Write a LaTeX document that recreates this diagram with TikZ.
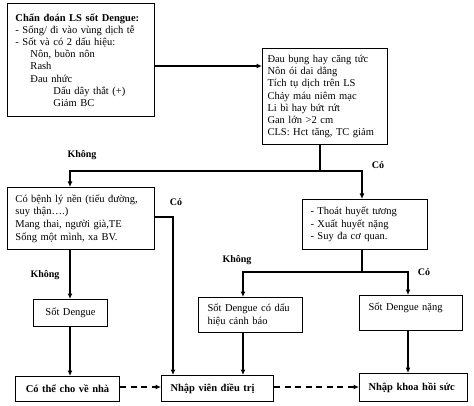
\documentclass[tikz,border=0pt]{standalone}
\usepackage{fontspec}
\setmainfont{Liberation Serif}
\usetikzlibrary{arrows.meta}
\begin{document}
\begin{tikzpicture}[x=1pt,y=-1pt,
  box/.style={draw, line width=1pt, anchor=north west, inner ysep=2pt, align=left,
    font=\fontsize{10.5}{12.2}\selectfont},
  lab/.style={font=\fontsize{10}{12}\selectfont\bfseries},
  ln/.style={line width=1.3pt},
  arr/.style={line width=1.3pt, -{Latex[length=5.5pt,width=5pt]}},
  darr/.style={arr, dash pattern=on 6pt off 4.5pt}]
\useasboundingbox (0,0) rectangle (474,406);

% boxes
\node[box, inner xsep=8pt, text width=131pt, minimum width=147pt, minimum height=113pt] (b1) at (7,3) {%
\textbf{Chẩn đoán LS sốt Dengue:}\\
- Sống/ đi vào vùng dịch tễ\\
- Sốt và có 2 dấu hiệu:\\
\hspace*{15pt}Nôn, buồn nôn\\
\hspace*{15pt}Rash\\
\hspace*{15pt}Đau nhức\\
\hspace*{38pt}Dấu dây thắt (+)\\
\hspace*{38pt}Giảm BC};

\node[box, inner xsep=5pt, text width=115pt, minimum width=125pt, minimum height=96pt] (b2) at (262,48) {%
Đau bụng hay căng tức\\
Nôn ói dai dẳng\\
Tích tụ dịch trên LS\\
Chảy máu niêm mạc\\
Li bì hay bứt rứt\\
Gan lớn >2 cm\\
CLS: Hct tăng, TC giảm};

\node[box, inner xsep=8pt, text width=131pt, minimum width=147pt, minimum height=62pt,
  font=\fontsize{10.5}{12.6}\selectfont] (b3) at (7,187) {%
Có bệnh lý nền (tiểu đường,\\
suy thận….)\\
Mang thai, người già,TE\\
Sống một mình, xa BV.};

\node[box, inner xsep=8pt, text width=109pt, minimum width=125pt, minimum height=50pt] (b4) at (302,199) {%
- Thoát huyết tương\\
- Xuất huyết nặng\\
- Suy đa cơ quan.};

\node[box, align=center, inner xsep=2pt, text width=70pt, minimum width=74pt, minimum height=27pt] (sd) at (33,299) {Sốt Dengue};

\node[box, align=center, inner xsep=2pt, text width=100pt, minimum width=104pt, minimum height=25pt] (ct) at (15,376) {\textbf{Có thể cho về nhà}};

\node[box, inner xsep=9pt, text width=94pt, minimum width=112pt, minimum height=26pt] (nv) at (161,375) {\textbf{Nhập viên điều trị}};

\node[box, inner xsep=9pt, text width=86pt, minimum width=104pt, minimum height=35pt] (sdc) at (198,297) {%
Sốt Dengue có dấu\\
hiệu cảnh báo};

\node[box, inner xsep=9pt, inner ysep=4pt, text width=85pt, minimum width=103pt, text height=11pt, text depth=16pt] (sdn) at (359,295) {Sốt Dengue nặng};

\node[box, inner xsep=9pt, text width=90pt, minimum width=108pt, minimum height=28pt] (nk) at (359,373) {\textbf{Nhập khoa hồi sức}};

% junction coordinates
\coordinate (y66) at (0,66);
\coordinate (j2) at (320,171);
\coordinate (x70) at (70,0);
\coordinate (x362) at (362,0);
\coordinate (y217) at (0,217);
\coordinate (x173) at (173,0);
\coordinate (j4) at (362,272);
\coordinate (x243) at (243,0);
\coordinate (x408) at (408,0);
\coordinate (y387) at (0,387);

% connectors
\draw[arr] (b1.east |- y66) -- (b2.west |- y66);
\draw[ln] (b2.south -| j2) -- (j2);
\draw[arr] (j2) -- (x70 |- j2) -- (b3.north -| x70);
\draw[arr] (j2) -- (x362 |- j2) -- (b4.north -| x362);
\draw[arr] (b3.east |- y217) -- (x173 |- y217) -- (nv.north -| x173);
\draw[arr] (b3.south -| x70) -- (sd.north -| x70);
\draw[arr] (sd.south -| x70) -- (ct.north -| x70);
\draw[darr] (ct.east |- y387) -- (nv.west |- y387);
\draw[ln] (b4.south -| j4) -- (j4);
\draw[arr] (j4) -- (x243 |- j4) -- (sdc.north -| x243);
\draw[arr] (j4) -- (x408 |- j4) -- (sdn.north -| x408);
\draw[arr] (sdc.south -| x243) -- (nv.north -| x243);
\draw[arr] (sdn.south -| x408) -- (nk.north -| x408);
\draw[darr] (nv.east |- y387) -- (nk.west |- y387);

% labels
\node[lab] (l1) at (82,155) {Không};
\node[lab] (l2) at (378,165) {Có};
\node[lab] (l3) at (176,202) {Có};
\node[lab] (l4) at (45,275) {Không};
\node[lab] (l5) at (237,260) {Không};
\node[lab] (l6) at (424,272) {Có};
\end{tikzpicture}
\end{document}
